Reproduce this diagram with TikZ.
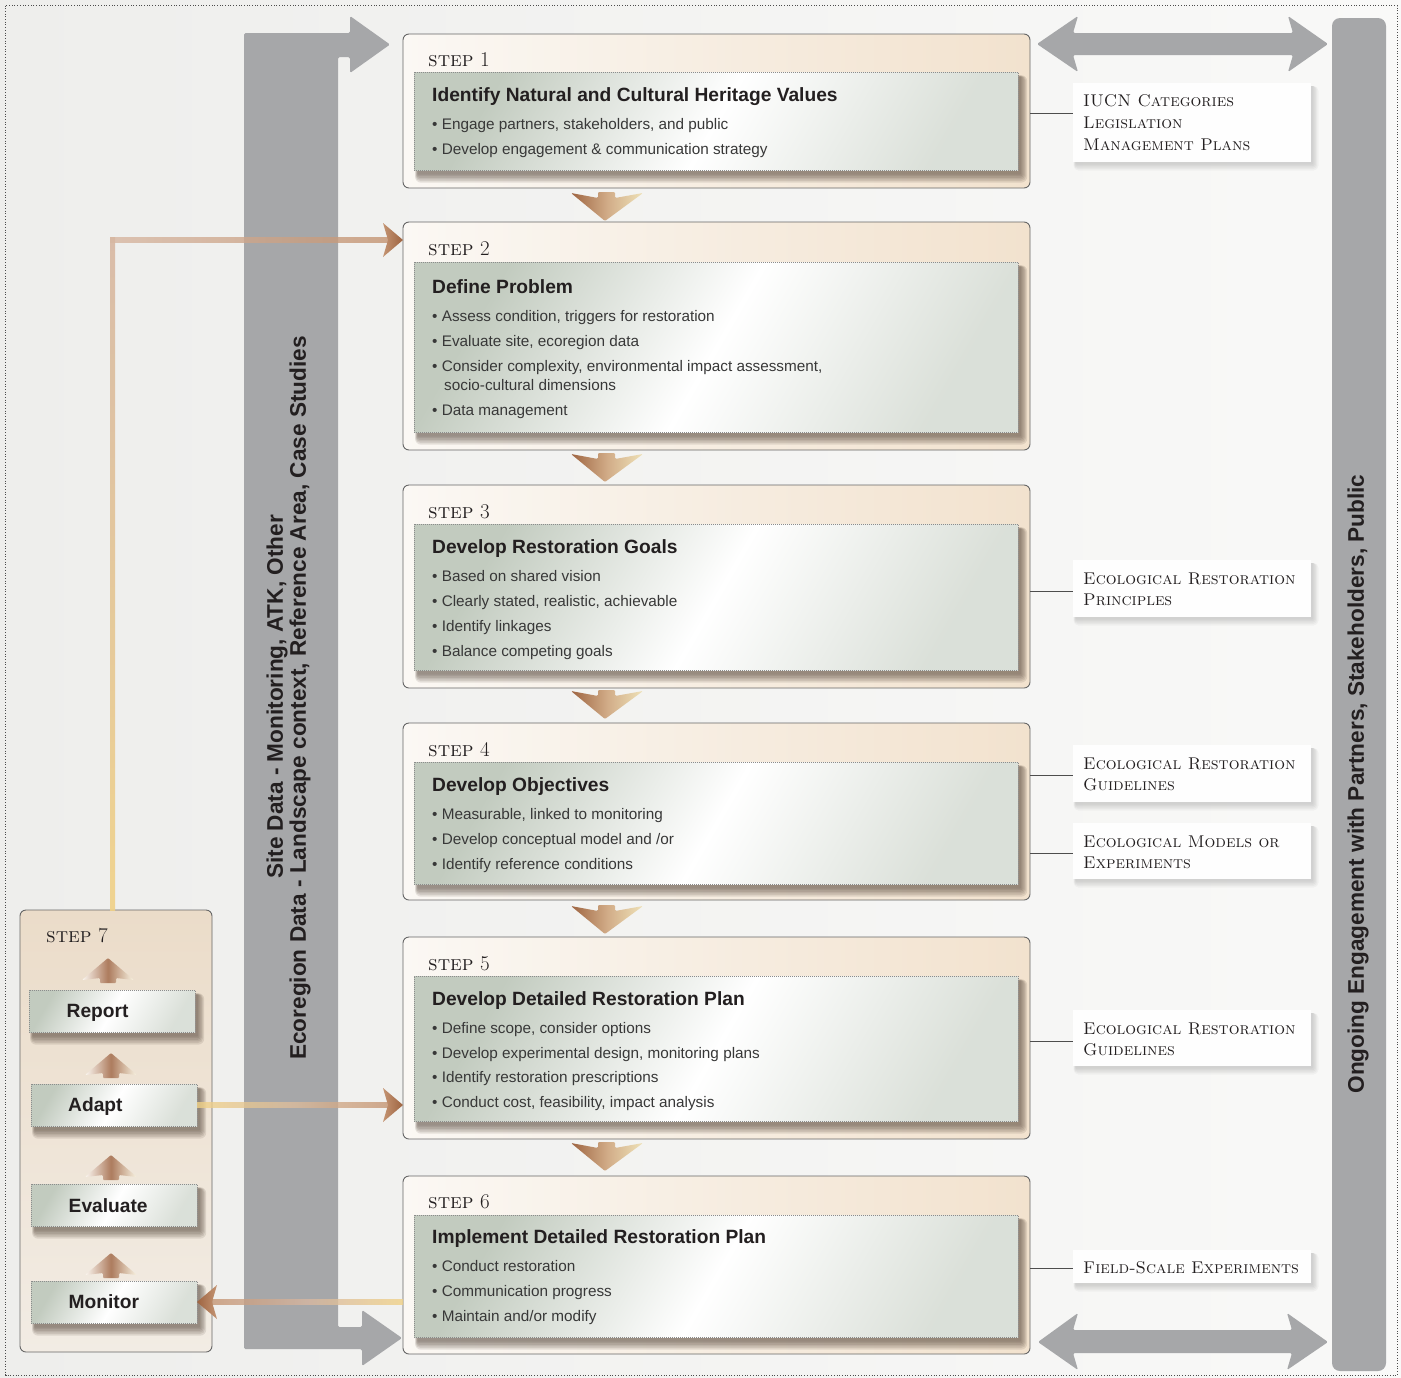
\documentclass[tikz,border=0pt]{standalone}
\usepackage{fontspec}
\setsansfont{Liberation Sans}
\usetikzlibrary{calc}
\definecolor{bgL}{HTML}{EEEEEC}
\definecolor{bgR}{HTML}{F9F9F8}
\definecolor{bargrey}{HTML}{A6A7A9}
\definecolor{peachL}{HTML}{FBF8F4}
\definecolor{peachR}{HTML}{F2E2CE}
\definecolor{peachT}{HTML}{EBDCC9}
\definecolor{peachB}{HTML}{F2ECE4}
\definecolor{greenish}{HTML}{C2CBBF}
\definecolor{boxline}{HTML}{666666}
\definecolor{shadowbrown}{HTML}{4B3C30}
\definecolor{brownA}{HTML}{9E6441}
\definecolor{brownB}{HTML}{C49472}
\definecolor{goldA}{HTML}{EFE2B8}
\definecolor{yellowA}{HTML}{F0D186}
\definecolor{tanA}{HTML}{D7B7A2}
\definecolor{textdark}{HTML}{231F20}
\definecolor{textgrey}{HTML}{383838}
\definecolor{labelline}{HTML}{4D4D4D}

\newcommand\shadowbox[4]{%
  \foreach \kk in {1,...,6}{%
    \fill[shadowbrown, fill opacity=0.12, rounded corners=\kk pt] ({#1+4-0.5*\kk},{#2+5-0.3*\kk}) rectangle ({#3+2+1.2*\kk},{#4+3+1.6*\kk});
  }%
}
\newcommand\lightshadow[4]{%
  \foreach \kk in {1,...,5}{%
    \fill[black, fill opacity=0.03, rounded corners=\kk pt] ({#1+3-0.5*\kk},{#2+3}) rectangle ({#3+1+1.3*\kk},{#4+1+1.5*\kk});
  }%
}
\newcommand\ibox[5]{%
  \shadowbox{#2}{#3}{#4}{#5}
  \node[innerbox, minimum width={#4-#2}, minimum height={#5-#3}] (#1) at (#2,#3) {};
}
\newcommand\lbox[5]{%
  \lightshadow{#2}{#3}{#4}{#5}
  \node[labelbox, minimum width={#4-#2}, minimum height={#5-#3}] (#1) at (#2,#3) {};
}
\newcommand\chev[2]{%
  \shade[left color=brownA, right color=goldA, middle color=brownB!70!goldA, rounded corners=1.2pt]
   ({#1-36},#2) -- ({#1-9},{#2+5}) -- ({#1-9},{#2-1}) -- ({#1+8},{#2-1}) -- ({#1+8},{#2+5}) -- ({#1+36},#2) -- ({#1-2},{#2+28}) -- cycle;
}
\newcommand\upar[2]{%
  \shade[left color=white!70!peachR, right color=white!60!goldA, middle color=brownA!85!white, rounded corners=1pt]
   ({#1-26},#2) -- (#1,{#2-22}) -- ({#1+26},#2) -- ({#1+8},{#2-2}) -- ({#1+8},{#2+3}) -- ({#1-8},{#2+3}) -- ({#1-8},{#2-2}) -- cycle;
}
\newcommand\bl[3]{\node[bul] (#1) at (432,#2) {\textbullet\ #3};}

\tikzset{
  outerbox/.style={draw=boxline, line width=0.9pt, rounded corners=6pt, left color=peachL, right color=peachR, inner sep=0pt, outer sep=0pt, anchor=north west},
  innerbox/.style={draw=black!45, dash pattern=on 1pt off 1pt, line width=0.5pt, inner sep=0pt, outer sep=0pt, anchor=north west, top color=greenish, bottom color=greenish!60!white, middle color=white, shading angle=60},
  labelbox/.style={fill=white!97!bgL, inner sep=0pt, outer sep=0pt, anchor=north west},
  steplbl/.style={font=\fontsize{21}{21}\selectfont, text=textdark, anchor=base west, inner sep=0pt},
  ttl/.style={font=\sffamily\bfseries\fontsize{19.2}{20}\selectfont, text=textdark, anchor=base west, inner sep=0pt},
  bul/.style={font=\sffamily\fontsize{15.3}{18}\selectfont, text=textgrey, anchor=base west, inner sep=0pt},
  sctext/.style={font=\fontsize{17}{21}\selectfont, text=textdark, anchor=base west, inner sep=0pt},
  bartext/.style={font=\sffamily\bfseries\fontsize{22.6}{24}\selectfont, text=textdark, rotate=90, inner sep=0pt},
  conn/.style={draw=labelline, line width=0.9pt},
}
\begin{document}
\begin{tikzpicture}[x=1pt, y=-1pt]
\useasboundingbox (0,0) rectangle (1401,1377);
% page
\shade[left color=bgL, right color=bgR] (0,0) rectangle (1401,1377);
\draw[black!70, line width=0.7pt, dotted] (5.5,5.5) rectangle (1397.5,1375);

% left grey bar with arrows
\fill[bargrey, rounded corners=1.5pt] (244,33) -- (350,33) -- (350,16) -- (390,44.5) -- (350,73) -- (350,57) -- (338,57) -- (338,1327) -- (362,1327) -- (362,1310) -- (402,1338) -- (362,1366) -- (362,1349) -- (244,1349) -- cycle;
\node[bartext] (bartxt1) at (277,697) {Site Data - Monitoring, ATK, Other};
\node[bartext] (bartxt2) at (300,698) {Ecoregion Data - Landscape context, Reference Area, Case Studies};

% right grey bar
\fill[bargrey, rounded corners=8pt] (1332,18) rectangle (1386,1371);
\node[bartext] (rbartxt) at (1358,784) {Ongoing Engagement with Partners, Stakeholders, Public};

% double arrows
\fill[bargrey, rounded corners=1.5pt] (1037,44) -- (1078,16) -- (1073,33) -- (1293,33) -- (1288,16) -- (1328,44) -- (1288,72) -- (1293,55) -- (1073,55) -- (1078,72) -- cycle;
\fill[bargrey, rounded corners=1.5pt] (1038,1342) -- (1078,1313) -- (1073,1330) -- (1292,1330) -- (1287,1313) -- (1328,1342) -- (1287,1370) -- (1292,1353) -- (1073,1353) -- (1078,1370) -- cycle;

% outer step boxes
\node[outerbox, minimum width=627, minimum height=154] (s1) at (403,34) {};
\node[outerbox, minimum width=627, minimum height=228] (s2) at (403,222) {};
\node[outerbox, minimum width=627, minimum height=203] (s3) at (403,485) {};
\node[outerbox, minimum width=627, minimum height=177] (s4) at (403,723) {};
\node[outerbox, minimum width=627, minimum height=202] (s5) at (403,937) {};
\node[outerbox, minimum width=627, minimum height=178] (s6) at (403,1176) {};
\node[outerbox, top color=peachT, bottom color=peachB, minimum width=192, minimum height=442] (s7) at (20,910) {};

% chevrons between steps
\chev{607}{193}
\chev{607}{454}
\chev{607}{691}
\chev{607}{906}
\chev{607}{1143}

% inner boxes
\ibox{i1}{414}{72}{1018}{170}
\ibox{i2}{414}{262}{1018}{432}
\ibox{i3}{414}{524}{1018}{670}
\ibox{i4}{414}{762}{1018}{884}
\ibox{i5}{414}{976}{1018}{1121}
\ibox{i6}{414}{1215}{1018}{1337}

% step 1
\node[steplbl] (h1) at (428,66) {\textsc{step} 1};
\node[ttl] (t1) at (432,101) {Identify Natural and Cultural Heritage Values};
\bl{b11}{129}{Engage partners, stakeholders, and public}
\bl{b12}{154}{Develop engagement \& communication strategy}
% step 2
\node[steplbl] (h2) at (428,255) {\textsc{step} 2};
\node[ttl] (t2) at (432,293) {Define Problem};
\bl{b21}{321}{Assess condition, triggers for restoration}
\bl{b22}{346}{Evaluate site, ecoregion data}
\bl{b23}{371}{Consider complexity, environmental impact assessment,}
\node[bul] (b23b) at (444,390) {socio-cultural dimensions};
\bl{b24}{415}{Data management}
% step 3
\node[steplbl] (h3) at (428,518) {\textsc{step} 3};
\node[ttl] (t3) at (432,553) {Develop Restoration Goals};
\bl{b31}{581}{Based on shared vision}
\bl{b32}{606}{Clearly stated, realistic, achievable}
\bl{b33}{631}{Identify linkages}
\bl{b34}{656}{Balance competing goals}
% step 4
\node[steplbl] (h4) at (428,756) {\textsc{step} 4};
\node[ttl] (t4) at (432,791) {Develop Objectives};
\bl{b41}{819}{Measurable, linked to monitoring}
\bl{b42}{844}{Develop conceptual model and /or}
\bl{b43}{869}{Identify reference conditions}
% step 5
\node[steplbl] (h5) at (428,970) {\textsc{step} 5};
\node[ttl] (t5) at (432,1005) {Develop Detailed Restoration Plan};
\bl{b51}{1033}{Define scope, consider options}
\bl{b52}{1058}{Develop experimental design, monitoring plans}
\bl{b53}{1082}{Identify restoration prescriptions}
\bl{b54}{1107}{Conduct cost, feasibility, impact analysis}
% step 6
\node[steplbl] (h6) at (428,1208) {\textsc{step} 6};
\node[ttl] (t6) at (432,1243) {Implement Detailed Restoration Plan};
\bl{b61}{1271}{Conduct restoration}
\bl{b62}{1296}{Communication progress}
\bl{b63}{1321}{Maintain and/or modify}

% step 7
\node[steplbl] (h7) at (46,942) {\textsc{step} 7};
\upar{108}{980}
\upar{111}{1075}
\upar{111}{1177}
\upar{111}{1275}
\ibox{r1}{29}{990}{195}{1032}
\ibox{r2}{31}{1084}{197}{1126}
\ibox{r3}{31}{1184}{197}{1226}
\ibox{r4}{31}{1281}{197}{1323}
\node[ttl] (r1t) at (66.5,1017.5) {Report};
\node[ttl] (r2t) at (68,1111.5) {Adapt};
\node[ttl] (r3t) at (68.5,1212) {Evaluate};
\node[ttl] (r4t) at (68.5,1308) {Monitor};

% right labels
\lbox{L1}{1073}{83}{1311}{162}
\lbox{L2}{1073}{560}{1311}{617}
\lbox{L3}{1073}{745}{1311}{802}
\lbox{L4}{1073}{823}{1311}{879}
\lbox{L5}{1073}{1010}{1311}{1066}
\lbox{L6}{1073}{1250}{1311}{1283}
\node[sctext] (L1a) at (1083,106.7) {\textsc{IUCN Categories}};
\node[sctext] (L1b) at (1083,128.3) {\textsc{Legislation}};
\node[sctext] (L1c) at (1083,150) {\textsc{Management Plans}};
\node[sctext] (L2a) at (1083,584) {\textsc{Ecological Restoration}};
\node[sctext] (L2b) at (1083,605) {\textsc{Principles}};
\node[sctext] (L3a) at (1083,769) {\textsc{Ecological Restoration}};
\node[sctext] (L3b) at (1083,790) {\textsc{Guidelines}};
\node[sctext] (L4a) at (1083,847) {\textsc{Ecological Models or}};
\node[sctext] (L4b) at (1083,868) {\textsc{Experiments}};
\node[sctext] (L5a) at (1083,1034) {\textsc{Ecological Restoration}};
\node[sctext] (L5b) at (1083,1055) {\textsc{Guidelines}};
\node[sctext] (L6a) at (1083,1273) {\textsc{Field-Scale Experiments}};

% label connectors
\coordinate (p1) at ($(L1.west)+(0,-9.5)$);
\coordinate (p2) at ($(L2.west)+(0,2.5)$);
\coordinate (p3) at ($(L3.west)+(0,1.5)$);
\coordinate (p4) at ($(L4.west)+(0,2)$);
\coordinate (p5) at ($(L5.west)+(0,3)$);
\coordinate (p6) at ($(L6.west)+(0,1.5)$);
\draw[conn] (s1.east |- p1) -- (p1);
\draw[conn] (s3.east |- p2) -- (p2);
\draw[conn] (s4.east |- p3) -- (p3);
\draw[conn] (s4.east |- p4) -- (p4);
\draw[conn] (s5.east |- p5) -- (p5);
\draw[conn] (s6.east |- p6) -- (p6);

% feedback connectors
\coordinate (a1) at ($(s7.north)+(-3.5,0)$);
\coordinate (a2) at ($(s2.north west)+(0,18)$);
\coordinate (a1c) at (a1 |- a2);
\shade[bottom color=yellowA, top color=tanA, fill opacity=0.9] ($(a1)+(-2.5,0)$) rectangle ($(a1c)+(2.5,-2.5)$);
\shade[left color=tanA, right color=brownB, fill opacity=0.8] ($(a1c)+(-2.5,-2.5)$) rectangle ($(a2)+(-14,2.5)$);
\shade[left color=brownB, right color=brownA] (a2) -- ++(-20,-17) -- ++(5,17) -- ++(-5,17) -- cycle;

\coordinate (c1) at (r2.east);
\coordinate (c2) at (c1 -| s5.west);
\shade[left color=yellowA, right color=brownB, middle color=tanA!80!yellowA, fill opacity=0.8] ($(c1)+(0,-2.5)$) rectangle ($(c2)+(-14,2.5)$);
\shade[left color=brownB, right color=brownA] (c2) -- ++(-20,-17) -- ++(5,17) -- ++(-5,17) -- cycle;

\coordinate (m1) at (r4.east);
\coordinate (m2) at (m1 -| s6.west);
\shade[left color=brownB, right color=yellowA, middle color=tanA, fill opacity=0.8] ($(m1)+(14,-2.5)$) rectangle ($(m2)+(0,2.5)$);
\shade[left color=brownA, right color=brownB] (m1) -- ++(20,-17) -- ++(-5,17) -- ++(5,17) -- cycle;
\end{tikzpicture}
\end{document}
